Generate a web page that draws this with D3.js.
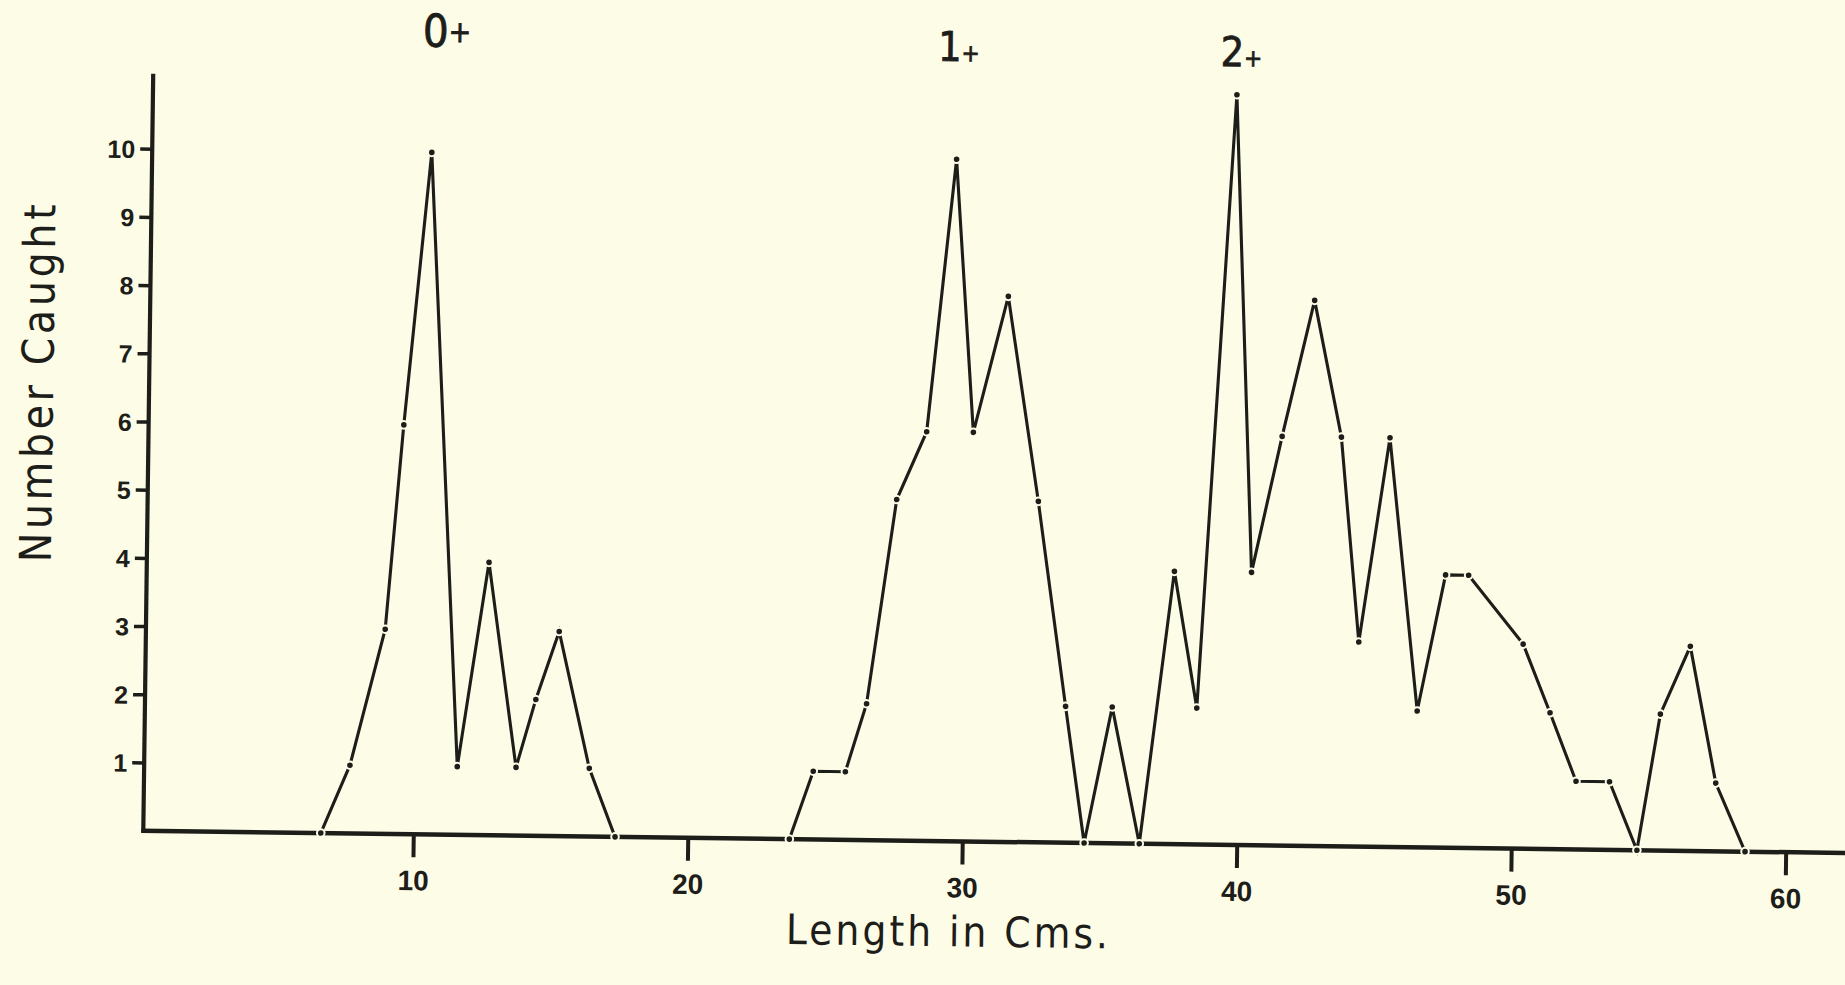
<!DOCTYPE html>
<html><head><meta charset="utf-8">
<script src="https://cdn.jsdelivr.net/npm/d3@7"></script>
<style>html,body{margin:0;padding:0;background:#fdfce6;} svg{display:block}</style>
</head><body>
<svg id="chart" width="1845" height="985"></svg>
<script>
// ---- data ----
// first age group (0+)
const lengthsA = [6.63, 7.66, 8.88, 9.46, 10.35, 11.57, 12.63, 13.71, 14.40, 15.22, 16.38, 17.35];
const countsA  = [0, 1, 3, 6, 10, 1, 4, 1, 2, 3, 1, 0];
// second continuous trace (1+ and 2+)
const lengthsB = [23.70, 24.54, 25.71, 26.45, 27.45, 28.51, 29.47, 30.21, 31.42, 32.61,
                  33.70, 34.44, 35.40, 36.45, 37.60, 38.48, 39.65, 40.41, 41.46, 42.58,
                  43.62, 44.35, 45.39, 46.51, 47.48, 48.32, 50.34, 51.35, 52.33, 53.55,
                  54.58, 55.37, 56.43, 57.42, 58.52];
const countsB  = [0, 1, 1, 2, 5, 6, 10, 6, 8, 5,
                  2, 0, 2, 0, 4, 2, 11, 4, 6, 8,
                  6, 3, 6, 2, 4, 4, 3, 2, 1, 1,
                  0, 2, 3, 1, 0];
const xTickValues = [10, 20, 30, 40, 50, 60];
const yTickValues = [1, 2, 3, 4, 5, 6, 7, 8, 9, 10];
const ageLabels = ["0", "1", "2"];
const ageLabelLengths = [10.85, 29.5, 39.8];
const ageLabelLevels  = [11.55, 11.44, 11.42];
const xTitle = "Length in Cms.";
const yTitle = "Number Caught";

// ---- drawing ----
const W = 1845, H = 985;
const BG = "#fdfce6", INK = "#1d1d1a";
const NARROW = "'Liberation Sans Narrow','DejaVu Sans Condensed','Arial Narrow',sans-serif";
const BOLD = "'Liberation Sans',Arial,sans-serif";

const svg = d3.select("#chart");
svg.append("rect").attr("width", W).attr("height", H).attr("fill", BG);

// the scanned page is tilted slightly; draw in a rotated frame anchored at the axis corner
const g = svg.append("g").attr("transform", "translate(143.3,830.7) rotate(0.75)");

const x = d3.scaleLinear().domain([0, 60]).range([-4.5, 1642.5]);
const y = d3.scaleLinear().domain([0, 10]).range([0, -682]);

// x axis
const gx = g.append("g").call(
  d3.axisBottom(x).tickValues(xTickValues).tickSize(23).tickPadding(0).tickFormat(d3.format("d")));
gx.select(".domain").remove();
gx.selectAll(".tick line").attr("stroke", INK).attr("stroke-width", 4);
gx.selectAll(".tick text").attr("y", 56).attr("dy", 0)
  .attr("font-family", BOLD).attr("font-weight", "bold").attr("font-size", 28).attr("fill", INK);
g.append("line").attr("x1", -2).attr("x2", 1715).attr("y1", 0).attr("y2", 0)
  .attr("stroke", INK).attr("stroke-width", 4.5);

// y axis
const gy = g.append("g").call(
  d3.axisLeft(y).tickValues(yTickValues).tickSize(12).tickPadding(5).tickFormat(d3.format("d")));
gy.select(".domain").remove();
gy.selectAll(".tick line").attr("stroke", INK).attr("stroke-width", 3.5);
gy.selectAll(".tick text").attr("dy", "0.36em")
  .attr("font-family", BOLD).attr("font-weight", "bold").attr("font-size", 25).attr("fill", INK);
g.append("line").attr("x1", 0).attr("x2", 0).attr("y1", 2).attr("y2", y(11.1))
  .attr("stroke", INK).attr("stroke-width", 4.2);

// titles
g.append("text").attr("transform", "translate(-96,-446) rotate(-90)")
  .attr("text-anchor", "middle").attr("font-family", NARROW).attr("font-size", 44)
  .attr("textLength", 358).attr("lengthAdjust", "spacing").attr("fill", INK).text(yTitle);
g.append("text").attr("x", 805).attr("y", 105)
  .attr("text-anchor", "middle").attr("font-family", NARROW).attr("font-size", 42)
  .attr("textLength", 322).attr("lengthAdjust", "spacing").attr("fill", INK).text(xTitle);

// age-class labels
ageLabels.forEach((lab, i) => {
  const t = g.append("text").attr("x", x(ageLabelLengths[i])).attr("y", y(ageLabelLevels[i]))
    .attr("text-anchor", "middle").attr("font-family", NARROW).attr("fill", INK)
    .attr("stroke", INK).attr("stroke-width", 0.8);
  if (i === 0) {
    t.append("tspan").attr("font-size", 45).text(lab);
    t.append("tspan").attr("font-size", 30).attr("dy", -5).text("+");
  } else {
    t.append("tspan").attr("font-size", 41).text(lab);
    t.append("tspan").attr("font-size", 24).text("+");
  }
});

// series
const seriesA = lengthsA.map((v, i) => [v, countsA[i]]);
const seriesB = lengthsB.map((v, i) => [v, countsB[i]]);
const line = d3.line().x(d => x(d[0])).y(d => y(d[1]));
[seriesA, seriesB].forEach(s => {
  g.append("path").attr("d", line(s)).attr("fill", "none")
    .attr("stroke", INK).attr("stroke-width", 3.1).attr("stroke-linejoin", "miter");
});
[seriesA, seriesB].forEach(s => {
  g.append("g").selectAll("circle").data(s).join("circle")
    .attr("cx", d => x(d[0])).attr("cy", d => y(d[1])).attr("r", 3.8)
    .attr("fill", INK).attr("stroke", BG).attr("stroke-width", 2);
});
</script>
</body></html>
